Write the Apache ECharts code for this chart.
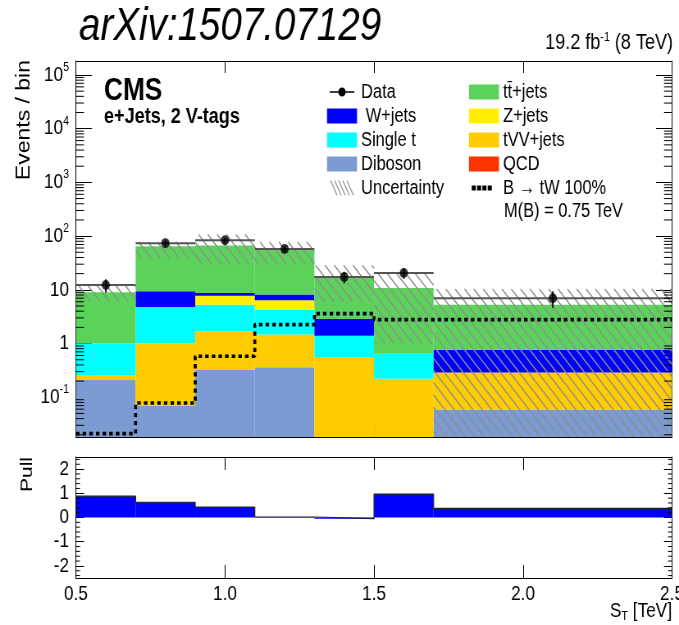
<!DOCTYPE html>
<html><head><meta charset="utf-8">
<script src="https://cdn.jsdelivr.net/npm/echarts@6/dist/echarts.min.js"></script>
<style>html,body{margin:0;padding:0;background:#fff;overflow:hidden;width:679px;height:625px}
#c{width:828px;height:625px;transform:scaleX(0.82005);transform-origin:0 0}</style>
</head><body><div id="c"></div>
<script>
// ---------------- data ----------------
const binEdges   = [0.5, 0.7, 0.9, 1.1, 1.3, 1.5, 1.7, 2.5];
const binCenters = [0.6, 0.8, 1.0, 1.2, 1.4, 1.6, 2.1];
const diboson = [0.21, 0.07, 0.32, 0.36, 0, 0, 0.059];
const tVV     = [0.05, 0.93, 1.37, 1.11, 0.56, 0.22, 0.23];
const singleT = [0.74, 3.8, 3.6, 2.8, 0.84, 0.45, 0];
const zJets   = [0, 0, 2.5, 2.1, 0, 0, 0];
const wJets   = [0, 4.6, 0.95, 1.77, 1.47, 0, 0.48];
const ttJets  = [8.0, 55, 58, 48, 14.5, 10.1, 4.5];
const qcd     = [0, 0, 0, 0, 0, 0, 0];
const uncUp   = [12.3, 78, 107, 78, 28.6, 20.6, 10.4];
const uncDown = [6.1, 40, 30, 30, 6, 1.0, 0];
const dataVals  = [12.3, 74, 83.5, 57.8, 17.4, 20.6, 6.95];
const dataErrLo = [3.4, 8.5, 9, 7.5, 4.2, 4.5, 2.35];
const dataErrHi = [3.4, 8.5, 9, 7.5, 4.2, 4.5, 2.45];
const signal  = [0.021, 0.078, 0.58, 2.25, 3.6, 2.79, 2.79];
const pull    = [0.88, 0.63, 0.43, 0.02, -0.05, 0.97, 0.38];
const xTickLabels = ['0.5', '1.0', '1.5', '2.0', '2.5'];
const yTickExps   = [-1, 0, 1, 2, 3, 4, 5];
const pullTickLabels = ['-2', '-1', '0', '1', '2'];
const pullMinorTicks = [-2.4,-2.2,-1.8,-1.6,-1.4,-1.2,-0.8,-0.6,-0.4,-0.2,0.2,0.4,0.6,0.8,1.2,1.4,1.6,1.8,2.2,2.4];

// ---------------- setup ----------------
// the reference picture is horizontally condensed; the chart is drawn wider and squeezed by CSS
const S = 0.82005;
const X = px => px / S;
const Y_MIN = Math.pow(10, -1.74), Y_MAX = Math.pow(10, 5.26);
const FN = "'Liberation Sans', Arial, sans-serif";

const comps = [
  {name: 'Diboson',      vals: diboson, color: '#7b9bd2'},
  {name: 'tVV+jets',     vals: tVV,     color: '#ffcc00'},
  {name: 'Single t',     vals: singleT, color: '#00ffff'},
  {name: 'Z+jets',       vals: zJets,   color: '#ffee00'},
  {name: ' W+jets',      vals: wJets,   color: '#0000ff'},
  {name: 'tt\u0304+jets', vals: ttJets,  color: '#5bd35b'},
  {name: 'QCD',          vals: qcd,     color: '#ff3300'}
];
const cum = binCenters.map(() => 0);
const stackSeries = comps.map(c => {
  const data = c.vals.map((v, i) => {
    const base = cum[i];
    cum[i] += v;
    return [binEdges[i], binEdges[i + 1], Math.max(base, Y_MIN), Math.max(cum[i], Y_MIN)];
  });
  return {
    name: c.name, type: 'custom', coordinateSystem: 'cartesian2d', xAxisIndex: 0, yAxisIndex: 0,
    itemStyle: {color: c.color}, clip: true, silent: true,
    encode: {x: [0, 1], y: [2, 3]}, data,
    renderItem: (params, api) => {
      const x0 = api.value(0), x1 = api.value(1), b = api.value(2), t = api.value(3);
      if (!(t > b)) return {type: 'group', children: []};
      const p0 = api.coord([x0, b]), p1 = api.coord([x1, t]);
      return {type: 'rect', shape: {x: p0[0], y: p1[1], width: p1[0] - p0[0], height: p0[1] - p1[1]},
              style: {fill: api.visual('color')}};
    }
  };
});

const hatchData = uncUp.map((u, i) => [binEdges[i], binEdges[i + 1], Math.max(uncDown[i], Y_MIN), u]);
const hatchSeries = {
  name: 'Uncertainty', type: 'custom', coordinateSystem: 'cartesian2d', xAxisIndex: 0, yAxisIndex: 0,
  itemStyle: {color: '#a0a0a0'}, clip: true, silent: true, encode: {x: [0, 1], y: [2, 3]}, data: hatchData,
  renderItem: (params, api) => {
    const pA = api.coord([api.value(0), api.value(3)]), pB = api.coord([api.value(1), api.value(2)]);
    const X0 = pA[0], X1 = pB[0], Y0 = pA[1], Y1 = pB[1];
    const m = 1.07, dc = 12.2;
    const children = [];
    const cmin = Y0 - m * X1, cmax = Y1 - m * X0;
    for (let k = Math.ceil(cmin / dc); k * dc <= cmax; k++) {
      const c = k * dc;
      const xa = Math.max(X0, (Y0 - c) / m), xb = Math.min(X1, (Y1 - c) / m);
      if (xb > xa) children.push({type: 'line', shape: {x1: xa, y1: m * xa + c, x2: xb, y2: m * xb + c},
                                  style: {stroke: '#8f8f8f', lineWidth: 1.4}});
    }
    return {type: 'group', children};
  }
};

const sigData = [];
signal.forEach((s, i) => { sigData.push([binEdges[i], s]); sigData.push([binEdges[i + 1], s]); });
const sigSeries = {
  name: 'B \u2192 tW 100%', type: 'line', xAxisIndex: 0, yAxisIndex: 0, data: sigData, symbol: 'none',
  itemStyle: {color: '#000'}, lineStyle: {color: '#000', width: 3.6, type: [4.3, 3.8], cap: 'butt'},
  silent: true, animation: false, clip: true
};

const errData = dataVals.map((v, i) => [binCenters[i], v, binEdges[i], binEdges[i + 1], v - dataErrLo[i], v + dataErrHi[i]]);
const errSeries = {
  name: 'Data', type: 'custom', coordinateSystem: 'cartesian2d', xAxisIndex: 0, yAxisIndex: 0,
  itemStyle: {color: '#000'}, silent: true, encode: {x: [0, 2, 3], y: [1, 4, 5]}, data: errData,
  renderItem: (params, api) => {
    const xc = api.value(0), y = api.value(1);
    const pc = api.coord([xc, y]), pl = api.coord([api.value(2), y]), pr = api.coord([api.value(3), y]);
    const plo = api.coord([xc, api.value(4)]), phi = api.coord([xc, api.value(5)]);
    return {type: 'group', children: [
      {type: 'line', shape: {x1: pl[0], y1: pc[1], x2: pr[0], y2: pc[1]}, style: {stroke: '#555', lineWidth: 2}},
      {type: 'line', shape: {x1: pc[0], y1: plo[1], x2: pc[0], y2: phi[1]}, style: {stroke: '#000', lineWidth: 1.8}}
    ]};
  }
};
const dataSeries = {
  name: 'Data', type: 'scatter', xAxisIndex: 0, yAxisIndex: 0, symbol: 'circle', symbolSize: 10,
  itemStyle: {color: '#000'}, data: dataVals.map((v, i) => [binCenters[i], v]), silent: true
};

// minor ticks for log axis (2..9 x 10^n)
const minorVals = [];
for (let e = -2; e <= 5; e++) for (let k = 2; k <= 9; k++) {
  const v = k * Math.pow(10, e);
  if (v > Y_MIN && v < Y_MAX) minorVals.push(v);
}
function tickRender(len) {
  return (params, api) => {
    const cs = params.coordSys;
    const p = api.coord([api.value(0), api.value(1)]);
    const xl = cs.x, xr = cs.x + cs.width;
    return {type: 'group', children: [
      {type: 'line', shape: {x1: xl, y1: p[1], x2: xl + len, y2: p[1]}, style: {stroke: '#000', lineWidth: 1}},
      {type: 'line', shape: {x1: xr - len, y1: p[1], x2: xr, y2: p[1]}, style: {stroke: '#000', lineWidth: 1}}
    ]};
  };
}
const minorMain = {type: 'custom', coordinateSystem: 'cartesian2d', xAxisIndex: 0, yAxisIndex: 0, silent: true,
  data: minorVals.map(v => [1.0, v]), renderItem: tickRender(X(8)), z: 5, clip: false};
const minorPull = {type: 'custom', coordinateSystem: 'cartesian2d', xAxisIndex: 2, yAxisIndex: 2, silent: true,
  data: pullMinorTicks.map(v => [1.0, v]), renderItem: tickRender(X(4)), z: 5, clip: false};

const pullSeries = {
  type: 'custom', coordinateSystem: 'cartesian2d', xAxisIndex: 2, yAxisIndex: 2, silent: true,
  encode: {x: [0, 1], y: [2]}, data: pull.map((p, i) => [binEdges[i], binEdges[i + 1], p]),
  renderItem: (params, api) => {
    const p0 = api.coord([api.value(0), 0]), p1 = api.coord([api.value(1), api.value(2)]);
    return {type: 'rect', shape: {x: p0[0], y: Math.min(p0[1], p1[1]), width: p1[0] - p0[0], height: Math.abs(p1[1] - p0[1])},
            style: {fill: '#0000ff'}};
  }
};
const pullStep = [[binEdges[0], 0]];
pull.forEach((p, i) => { pullStep.push([binEdges[i], p]); pullStep.push([binEdges[i + 1], p]); });
pullStep.push([binEdges[binEdges.length - 1], 0]);
const pullLine = {type: 'line', xAxisIndex: 2, yAxisIndex: 2, data: pullStep, symbol: 'none', silent: true,
  lineStyle: {color: '#222', width: 1.2}, animation: false};

// ---------------- axes ----------------
const lineBlack = {color: '#000', width: 1};
function xAx(grid, pos, labels) {
  return {gridIndex: grid, type: 'value', min: 0.5, max: 2.5, interval: 0.5, position: pos,
    axisLine: {show: true, onZero: false, lineStyle: lineBlack},
    axisTick: {show: true, inside: true, length: grid === 0 ? 12 : 13, lineStyle: lineBlack},
    splitLine: {show: false},
    axisLabel: labels ? {show: true, margin: 6, color: '#000', fontFamily: FN, fontSize: 21,
      formatter: v => xTickLabels[Math.round((v - 0.5) / 0.5)] || ''} : {show: false}};
}
function yLog(pos, labels) {
  return {gridIndex: 0, type: 'log', logBase: 10, min: Y_MIN, max: Y_MAX, position: pos, splitNumber: 7,
    axisLine: {show: true, onZero: false, lineStyle: lineBlack},
    axisTick: {show: true, inside: true, length: X(16), lineStyle: lineBlack},
    splitLine: {show: false}, minorTick: {show: false},
    axisLabel: labels ? {show: true, margin: X(7), color: '#000', fontFamily: FN, fontSize: 21, lineHeight: 28,
      showMinLabel: false, showMaxLabel: false,
      formatter: v => {
        const e = Math.log10(v), r = Math.round(e);
        if (Math.abs(e - r) > 1e-6 || yTickExps.indexOf(r) < 0) return '';
        if (r === 0) return '1';
        if (r === 1) return '10';
        return '10{sup|' + r + '}';
      },
      rich: {sup: {fontFamily: FN, fontSize: 13, lineHeight: 13, verticalAlign: 'top', color: '#000'}}} : {show: false}};
}
function yPull(pos, labels) {
  return {gridIndex: 1, type: 'value', min: -2.5, max: 2.5, position: pos,
    axisLine: {show: true, onZero: false, lineStyle: lineBlack},
    axisTick: {show: true, inside: true, length: X(8), lineStyle: lineBlack},
    splitLine: {show: false},
    axisLabel: labels ? {show: true, margin: X(7), color: '#000', fontFamily: FN, fontSize: 21,
      showMinLabel: false, showMaxLabel: false,
      formatter: v => { const r = Math.round(v); return Math.abs(v - r) < 1e-6 ? (pullTickLabels[r + 2] || '') : ''; }} : {show: false}};
}

const dataIcon = 'path://M0,0L0.2,0L0.2,0.2Z M29.8,14.8L30,14.8L30,15Z M0,6.8L30,6.8L30,8.2L0,8.2Z M15,3A4.5,4.5 0 1,1 14.99,3Z';
const hatchIcon = 'path://M0,0L1.6,0L9.6,15L8,15Z M5,0L6.6,0L14.6,15L13,15Z M10,0L11.6,0L19.6,15L18,15Z M15,0L16.6,0L24.6,15L23,15Z M20,0L21.6,0L29.6,15L28,15Z';
const sigIcon = 'path://M0,0L0.2,0L0.2,0.2Z M29.8,14.8L30,14.8L30,15Z M0,5L5,5L5,10L0,10Z M6.5,5L11.5,5L11.5,10L6.5,10Z M13,5L18,5L18,10L13,10Z M19.5,5L24.5,5L24.5,10L19.5,10Z';

const legendText = {fontFamily: FN, fontSize: 20, color: '#000'};
const legendBase = {orient: 'vertical', itemWidth: X(30), itemHeight: 15, itemGap: 4, padding: 0, selectedMode: false,
  textStyle: legendText};
const option = {
  backgroundColor: '#fff',
  animation: false,
  textStyle: {fontFamily: FN},
  grid: [
    {left: X(76), top: 61, width: X(596), height: 376, outerBoundsMode: 'none', containLabel: false},
    {left: X(76), top: 457, width: X(596), height: 121, outerBoundsMode: 'none', containLabel: false}
  ],
  xAxis: [xAx(0, 'bottom', false), xAx(0, 'top', false), xAx(1, 'bottom', true), xAx(1, 'top', false)],
  yAxis: [yLog('left', true), yLog('right', false), yPull('left', true), yPull('right', false)],
  legend: [
    Object.assign({left: X(327), top: 82,
     data: [{name: 'Data', icon: dataIcon}, {name: ' W+jets', icon: 'rect'}, {name: 'Single t', icon: 'rect'},
            {name: 'Diboson', icon: 'rect'}, {name: 'Uncertainty', icon: hatchIcon}]}, legendBase),
    Object.assign({left: X(469), top: 82,
     data: [{name: 'tt\u0304+jets', icon: 'rect'}, {name: 'Z+jets', icon: 'rect'}, {name: 'tVV+jets', icon: 'rect'},
            {name: 'QCD', icon: 'rect'}, {name: 'B \u2192 tW 100%', icon: sigIcon}]}, legendBase)
  ],
  title: [
    {text: 'arXiv:1507.07129', left: X(79), top: 3, padding: 0,
     textStyle: {fontFamily: FN, fontSize: 47, fontStyle: 'italic', fontWeight: 'normal', color: '#000'}},
    {text: '19.2 fb{sup|-1} (8 TeV)', right: X(6), top: 31, padding: 0,
     textStyle: {fontFamily: FN, fontSize: 22, fontWeight: 'normal', color: '#000', lineHeight: 24,
       rich: {sup: {fontFamily: FN, fontSize: 13, lineHeight: 13, verticalAlign: 'top', color: '#000'}}}},
    {text: 'CMS', left: X(104), top: 75, padding: 0, textStyle: {fontFamily: FN, fontSize: 32, fontWeight: 'bold', color: '#000'}},
    {text: 'e+Jets, 2 V-tags', left: X(104), top: 106, padding: 0, textStyle: {fontFamily: FN, fontSize: 22, fontWeight: 'bold', color: '#000'}},
    {text: 'M(B) = 0.75 TeV', left: X(504), top: 201, padding: 0, textStyle: {fontFamily: FN, fontSize: 20, fontWeight: 'normal', color: '#000'}},
    {text: 'S{sub|T} [TeV]', right: X(7), top: 599, padding: 0,
     textStyle: {fontFamily: FN, fontSize: 21, fontWeight: 'normal', color: '#000', lineHeight: 24,
       rich: {sub: {fontFamily: FN, fontSize: 13, lineHeight: 13, verticalAlign: 'bottom', color: '#000'}}}}
  ],
  graphic: [
    {type: 'text', x: X(24), y: 60, rotation: Math.PI / 2,
     style: {text: 'Events / bin', fontFamily: FN, fontSize: 23, fill: '#000', align: 'right', verticalAlign: 'middle'}},
    {type: 'text', x: X(27), y: 457, rotation: Math.PI / 2,
     style: {text: 'Pull', fontFamily: FN, fontSize: 21, fill: '#000', align: 'right', verticalAlign: 'middle'}}
  ],
  series: [...stackSeries, hatchSeries, sigSeries, errSeries, dataSeries, minorMain, pullSeries, pullLine, minorPull]
};
const chart = echarts.init(document.getElementById('c'), null, {renderer: 'canvas', width: 828, height: 625});
chart.setOption(option);
</script>
</body></html>
